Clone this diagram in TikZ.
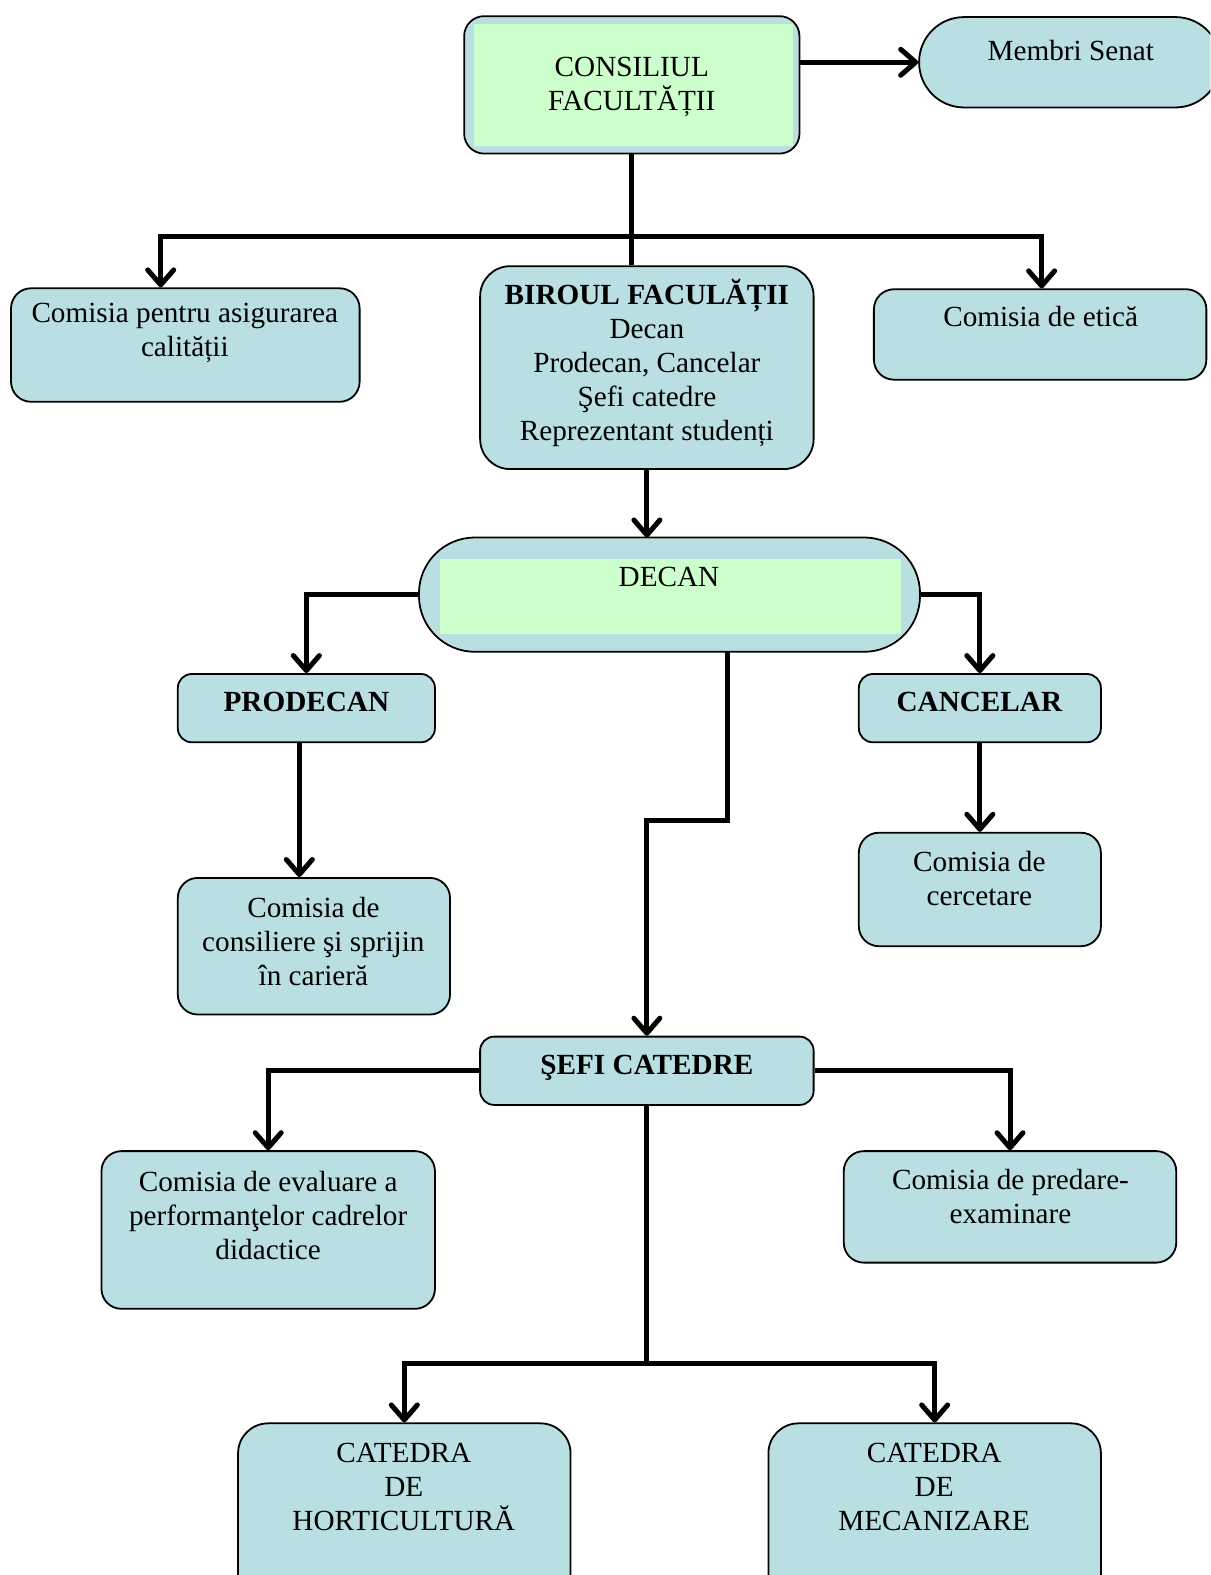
\documentclass[tikz,border=0pt]{standalone}
\usepackage{fontspec}
\setmainfont{Liberation Serif}
\usetikzlibrary{arrows.meta,calc}
\definecolor{boxblue}{HTML}{B9DFE3}
\definecolor{boxgreen}{HTML}{CCFFCC}
\begin{document}
\begin{tikzpicture}[x=0.502pt,y=-0.502pt,
  box/.style={draw=black, line width=0.9pt, fill=boxblue, rounded corners=10pt, inner sep=0pt},
  greenbox/.style={fill=boxgreen, draw=none, inner sep=0pt},
  txt/.style={align=center, inner sep=0pt, font=\fontsize{14.6}{17}\selectfont},
  btxt/.style={txt, font=\fontsize{14.6}{17}\selectfont\bfseries},
  conn/.style={draw=black, line width=2.5pt, line join=miter},
  arr/.style={conn, -{Straight Barb[length=7.5pt,width=13pt,round]}}]
\useasboundingbox (0,0) rectangle (1205,1568);
\clip (0,0) rectangle (1205,1568);

% CONSILIUL
\node[box, draw=none, minimum width=332*0.502pt, minimum height=135*0.502pt] (cons) at (629,84.5) {};
\node[greenbox, minimum width=317*0.502pt, minimum height=121*0.502pt] (consg) at (630.5,84.5) {};
\draw[line width=0.9pt, rounded corners=10pt] (cons.north west) rectangle (cons.south east);
\node[txt] (const) at (629,87) {CONSILIUL\\FACULTĂȚII};

% Membri Senat
\node[box, rounded corners=22.5pt, minimum width=300*0.502pt, minimum height=90*0.502pt] (senat) at (1065,62) {};
\node[txt] (senatt) at (1066,50) {Membri Senat};

% Comisia pentru asigurarea calitatii
\node[box, minimum width=347*0.502pt, minimum height=113*0.502pt] (cap) at (184.5,343.5) {};
\node[txt] (capt) at (184,331) {Comisia pentru asigurarea\\calității};

% Biroul
\node[box, rounded corners=15pt, minimum width=332*0.502pt, minimum height=202*0.502pt] (birou) at (644,366) {};
\node[txt] (birout) at (644,361.5) {\textbf{BIROUL FACULĂȚII}\\Decan\\Prodecan, Cancelar\\Şefi catedre\\Reprezentant studenți};

% Comisia de etica
\node[box, minimum width=331*0.502pt, minimum height=90*0.502pt] (etica) at (1035.5,333) {};
\node[txt] (eticat) at (1036,315) {Comisia de etică};

% DECAN
\node[box, draw=none, rounded corners=28pt, minimum width=497*0.502pt, minimum height=112*0.502pt] (decan) at (666.5,592) {};
\node[greenbox, minimum width=459*0.502pt, minimum height=74*0.502pt] (decang) at (667.5,594) {};
\draw[line width=0.9pt, rounded corners=28pt] (decan.north west) rectangle (decan.south east);
\node[txt] (decant) at (666,574) {DECAN};

% PRODECAN / CANCELAR
\node[box, rounded corners=7pt, minimum width=256*0.502pt, minimum height=68*0.502pt] (prodecan) at (305,705) {};
\node[btxt] (prodecant) at (305,699) {PRODECAN};
\node[box, rounded corners=7pt, minimum width=241*0.502pt, minimum height=68*0.502pt] (cancelar) at (975.5,705) {};
\node[btxt] (cancelart) at (975,699) {CANCELAR};

% Comisia de consiliere
\node[box, minimum width=271*0.502pt, minimum height=136*0.502pt] (consil) at (312.5,942) {};
\node[txt] (consilt) at (312,937.5) {Comisia de\\consiliere şi sprijin\\în carieră};

% Comisia de cercetare
\node[box, minimum width=241*0.502pt, minimum height=113*0.502pt] (cerc) at (975.5,885.5) {};
\node[txt] (cerct) at (975,875) {Comisia de\\cercetare};

% SEFI CATEDRE
\node[box, rounded corners=7pt, minimum width=332*0.502pt, minimum height=68*0.502pt] (sefi) at (644,1066) {};
\node[btxt] (sefit) at (644,1063) {ŞEFI CATEDRE};

% Comisia de evaluare
\node[box, minimum width=332*0.502pt, minimum height=157*0.502pt] (eval) at (267,1224.5) {};
\node[txt] (evalt) at (267,1210.5) {Comisia de evaluare a\\performanţelor cadrelor\\didactice};

% Comisia de predare-examinare
\node[box, minimum width=331*0.502pt, minimum height=111*0.502pt] (pred) at (1005.5,1201.5) {};
\node[txt] (predt) at (1006,1191.5) {Comisia de predare-\\examinare};

% CATEDRE
\node[box, rounded corners=15pt, minimum width=331*0.502pt, minimum height=200*0.502pt] (horti) at (402.5,1517) {};
\node[txt] (hortit) at (402,1480) {CATEDRA\\DE\\HORTICULTURĂ};
\node[box, rounded corners=15pt, minimum width=331*0.502pt, minimum height=200*0.502pt] (meca) at (930.5,1517) {};
\node[txt] (mecat) at (930,1480) {CATEDRA\\DE\\MECANIZARE};

% Connectors
\draw[arr] (cons.east |- senat.west) -- (senat.west);
\coordinate (bl) at (160,235);
\coordinate (br) at (1037,235);
\draw[conn] (cons.south) -- (cons.south |- birou.north);
\draw[arr] (cons.south |- bl) -| (cap.north -| bl);
\draw[arr] (cons.south |- br) -| (etica.north -| br);
\draw[conn] (bl) -- (br);
\draw[arr] (birou.south) -- (birou.south |- decan.north);
\draw[arr] (decan.west) -| (prodecan.north);
\draw[arr] (decan.east) -| (cancelar.north);
\draw[arr] ($(decan.south)+(57.5,0)$) -- ++(0,168) -| (sefi.north);
\draw[arr] ($(prodecan.south)+(-7,0)$) -- ($(prodecan.south |- consil.north)+(-7,0)$);
\draw[arr] (cancelar.south) -- (cerc.north);
\draw[arr] (sefi.west) -| (eval.north);
\draw[arr] (sefi.east) -| (pred.north);
\draw[arr] (sefi.south) -- ++(0,257) -| (horti.north);
\draw[arr] (sefi.south) -- ++(0,257) -| (meca.north);
\end{tikzpicture}
\end{document}
